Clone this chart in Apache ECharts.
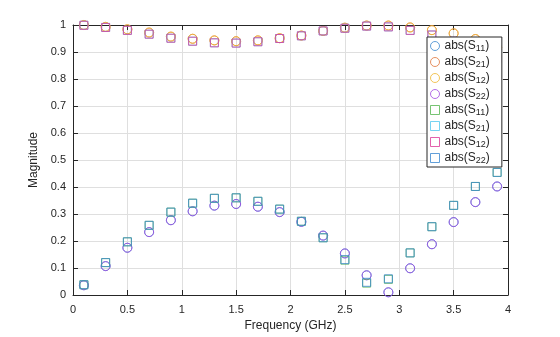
<!DOCTYPE html>
<html>
<head>
<meta charset="utf-8">
<script src="https://cdn.jsdelivr.net/npm/echarts@6/dist/echarts.min.js"></script>
<style>
  html, body { margin: 0; padding: 0; background: #fff; }
  #chart { width: 560px; height: 337px; }
</style>
</head>
<body>
<div id="chart"></div>
<script>
// Frequency sweep points (GHz)
const freq = [0.1, 0.3, 0.5, 0.7, 0.9, 1.1, 1.3, 1.5, 1.7, 1.9,
              2.1, 2.3, 2.5, 2.7, 2.9, 3.1, 3.3, 3.5, 3.7, 3.9];

// First data set (circles)
const s11A = [0.036, 0.107, 0.175, 0.233, 0.277, 0.310, 0.331, 0.337, 0.327, 0.307,
              0.271, 0.220, 0.154, 0.073, 0.010, 0.099, 0.188, 0.270, 0.344, 0.402];
const s21A = [1.000, 0.993, 0.984, 0.972, 0.957, 0.949, 0.943, 0.940, 0.943, 0.951,
              0.961, 0.978, 0.990, 0.998, 0.998, 0.991, 0.981, 0.969, 0.948, 0.916];
const s12A = [1.000, 0.993, 0.984, 0.972, 0.957, 0.949, 0.943, 0.940, 0.943, 0.951,
              0.961, 0.978, 0.990, 0.998, 0.998, 0.991, 0.981, 0.969, 0.948, 0.916];
const s22A = [0.036, 0.107, 0.175, 0.233, 0.277, 0.310, 0.331, 0.337, 0.327, 0.307,
              0.271, 0.220, 0.154, 0.073, 0.010, 0.099, 0.188, 0.270, 0.344, 0.402];

// Second data set (squares)
const s11B = [0.038, 0.120, 0.197, 0.258, 0.307, 0.340, 0.358, 0.360, 0.347, 0.318,
              0.273, 0.212, 0.129, 0.044, 0.058, 0.156, 0.253, 0.332, 0.402, 0.454];
const s21B = [0.999, 0.991, 0.980, 0.966, 0.951, 0.940, 0.934, 0.933, 0.938, 0.950,
              0.960, 0.978, 0.988, 0.996, 0.993, 0.980, 0.963, 0.940, 0.910, 0.876];
const s12B = [0.999, 0.991, 0.980, 0.966, 0.951, 0.940, 0.934, 0.933, 0.938, 0.950,
              0.960, 0.978, 0.988, 0.996, 0.993, 0.980, 0.963, 0.940, 0.910, 0.876];
const s22B = [0.038, 0.120, 0.197, 0.258, 0.307, 0.340, 0.358, 0.360, 0.347, 0.318,
              0.273, 0.212, 0.131, 0.047, 0.060, 0.156, 0.253, 0.332, 0.402, 0.454];

const xTicks = { min: 0, max: 4, interval: 0.5 };
const yTicks = { min: 0, max: 1, interval: 0.1 };

const seriesDefs = [
  { key: 'A11', idx: '11', data: s11A, symbol: 'circle', color: '#3b87cf' },
  { key: 'A21', idx: '21', data: s21A, symbol: 'circle', color: '#e0763a' },
  { key: 'A12', idx: '12', data: s12A, symbol: 'circle', color: '#efb630' },
  { key: 'A22', idx: '22', data: s22A, symbol: 'circle', color: '#a048e0' },
  { key: 'B11', idx: '11', data: s11B, symbol: 'rect',   color: '#55b550' },
  { key: 'B21', idx: '21', data: s21B, symbol: 'rect',   color: '#55c8ef' },
  { key: 'B12', idx: '12', data: s12B, symbol: 'rect',   color: '#dc3a98' },
  { key: 'B22', idx: '22', data: s22B, symbol: 'rect',   color: '#3b87cf' }
];

const axisColor = '#262626';
const font = 'Liberation Sans, Arial, Helvetica, sans-serif';

const chart = echarts.init(document.getElementById('chart'), null, { renderer: 'canvas' });

const baseAxis = (extra) => Object.assign({
  type: 'value',
  axisLine: { show: true, onZero: false, lineStyle: { color: axisColor, width: 1 } },
  axisTick: { show: true, inside: true, length: 5, lineStyle: { color: axisColor } },
  splitLine: { show: false },
  axisLabel: { show: false }
}, extra);

chart.setOption({
  animation: false,
  backgroundColor: '#fff',
  textStyle: { fontFamily: font },
  grid: { left: 73, right: 52, top: 25, bottom: 39, containLabel: false },
  xAxis: [
    baseAxis(Object.assign({}, xTicks, {
      position: 'bottom',
      name: 'Frequency (GHz)',
      nameLocation: 'middle',
      nameGap: 25,
      nameTextStyle: { color: axisColor, fontSize: 12, fontFamily: font },
      splitLine: { show: true, lineStyle: { color: '#dfdfdf', width: 1 } },
      axisLabel: { show: true, color: axisColor, fontSize: 11, margin: 9, fontFamily: font,
                   formatter: v => String(+v.toFixed(1)) }
    })),
    baseAxis(Object.assign({}, xTicks, { position: 'top' }))
  ],
  yAxis: [
    baseAxis(Object.assign({}, yTicks, {
      position: 'left',
      name: 'Magnitude',
      nameLocation: 'middle',
      nameGap: 25,
      nameTextStyle: { color: axisColor, fontSize: 12, fontFamily: font },
      splitLine: { show: true, lineStyle: { color: '#dfdfdf', width: 1 } },
      axisLabel: { show: true, color: axisColor, fontSize: 11, margin: 7, fontFamily: font,
                   formatter: v => String(+v.toFixed(1)) }
    })),
    baseAxis(Object.assign({}, yTicks, { position: 'right' }))
  ],
  legend: {
    orient: 'vertical',
    left: 427,
    top: 37,
    backgroundColor: '#fff',
    borderColor: axisColor,
    borderWidth: 1,
    borderRadius: 0,
    padding: [2, 12, 2, 3],
    itemGap: 2,
    itemWidth: 9,
    itemHeight: 9,
    itemStyle: { borderWidth: 1 },
    data: seriesDefs.map(d => ({ name: d.key, icon: d.symbol })),
    formatter: name => {
      const d = seriesDefs.find(s => s.key === name);
      return '{b|abs(S}{s|' + d.idx + '}{b|)}';
    },
    textStyle: {
      color: axisColor,
      fontFamily: font,
      rich: {
        b: { fontSize: 12, fontFamily: font, color: axisColor, lineHeight: 14 },
        s: { fontSize: 9, fontFamily: font, color: axisColor, lineHeight: 14, padding: [5, 0, 0, 0] }
      }
    }
  },
  series: seriesDefs.map(d => ({
    name: d.key,
    type: 'scatter',
    clip: false,
    symbol: d.symbol,
    symbolSize: d.symbol === 'circle' ? 9 : 8,
    itemStyle: { color: 'rgba(0,0,0,0)', borderColor: d.color, borderWidth: 1 },
    emphasis: { disabled: true },
    data: freq.map((f, i) => [f, d.data[i]])
  }))
});
</script>
</body>
</html>
